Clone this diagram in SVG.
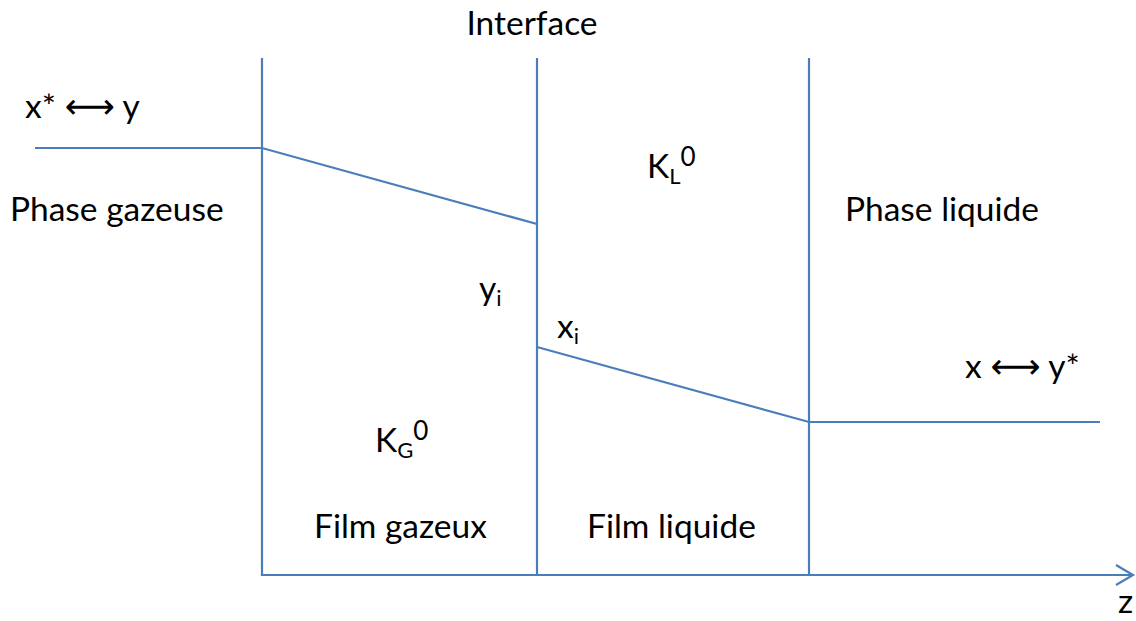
<svg xmlns="http://www.w3.org/2000/svg" width="1136" height="621" viewBox="0 0 1136 621">
<style>
.ln{stroke:#4a7ebb;stroke-width:2.2;fill:none}
text{font-family:Lato,"Open Sans","Liberation Sans",sans-serif;font-size:33.5px;fill:#000}
.sub{font-size:22px}
.sup{font-size:26px}
.arr{font-family:"DejaVu Sans",sans-serif;font-size:35px}
</style>
<rect width="1136" height="621" fill="#fff"/>
<g id="connectors">
<line class="ln" x1="262" y1="58" x2="262" y2="576"/>
<line class="ln" x1="537" y1="58" x2="537" y2="576"/>
<line class="ln" x1="809" y1="58" x2="809" y2="576"/>
<line class="ln" x1="261" y1="575" x2="1132" y2="575"/>
<polyline class="ln" points="1116,565 1133,575 1116,585"/>
<polyline class="ln" points="35,148 262,148 537,224"/>
<polyline class="ln" points="537,347 809,422 1100,422"/>
</g>
<g id="interface"><text x="532" y="35" text-anchor="middle">Interface</text></g>
<g id="xstar-y"><text x="25" y="118">x* <tspan class="arr">⟷</tspan> y</text></g>
<g id="phase-gazeuse"><text x="10" y="221">Phase gazeuse</text></g>
<g id="phase-liquide"><text x="845" y="221">Phase liquide</text></g>
<g id="kl0"><text x="647" y="178">K<tspan class="sub" dy="6">L</tspan><tspan class="sup" dy="-18">0</tspan></text></g>
<g id="yi"><text x="479" y="300">y<tspan class="sub" dy="6">i</tspan></text></g>
<g id="xi"><text x="557" y="338">x<tspan class="sub" dy="6">i</tspan></text></g>
<g id="x-ystar"><text x="965" y="378">x <tspan class="arr">⟷</tspan> y*</text></g>
<g id="kg0"><text x="375" y="452">K<tspan class="sub" dy="6">G</tspan><tspan class="sup" dy="-18">0</tspan></text></g>
<g id="film-gazeux"><text x="314" y="538">Film gazeux</text></g>
<g id="film-liquide"><text x="587" y="538">Film liquide</text></g>
<g id="z"><text x="1118" y="613">z</text></g>
</svg>
